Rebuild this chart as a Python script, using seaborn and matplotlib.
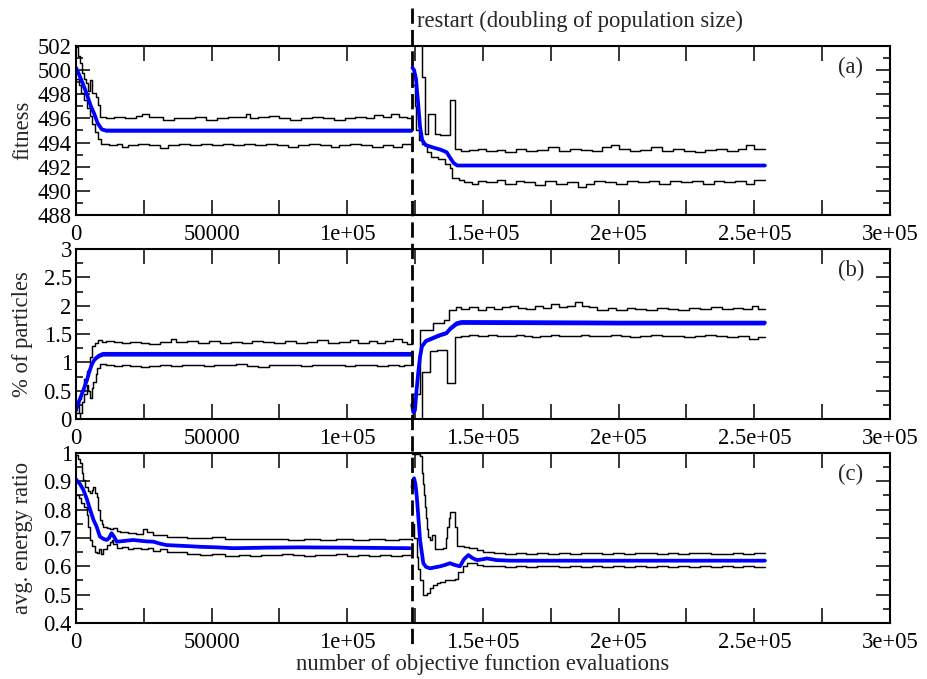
import numpy as np
import pandas as pd
import matplotlib
matplotlib.use("Agg")
import matplotlib.pyplot as plt
from matplotlib.lines import Line2D
from matplotlib.ticker import FixedLocator, MultipleLocator
import seaborn as sns

# ---------------- data (x in thousands of evaluations) ----------------
restart_k = 123.8

x_ticks = [0, 50000, 100000, 150000, 200000, 250000, 300000]
x_tick_labels = ["0", "50000", "1e+05", "1.5e+05", "2e+05", "2.5e+05", "3e+05"]

fit_ticks = [488, 490, 492, 494, 496, 498, 500, 502]
fit_tick_labels = ["488", "490", "492", "494", "496", "498", "500", "502"]
pct_ticks = [0, 0.5, 1, 1.5, 2, 2.5, 3]
pct_tick_labels = ["0", "0.5", "1", "1.5", "2", "2.5", "3"]
en_ticks = [0.4, 0.5, 0.6, 0.7, 0.8, 0.9, 1.0]
en_tick_labels = ["0.4", "0.5", "0.6", "0.7", "0.8", "0.9", "1"]

# panel (a) fitness -- upper / lower quantile (step), mean (x, value, noise half-width)
fit_hi_1 = [(0, 501.9), (0.8, 501.2), (1.5, 500.6), (2.3, 499.8), (3.0, 499.3), (3.8, 498.9),
            (4.5, 498.3), (5.2, 499.2), (6.0, 498.1), (7.2, 497.8), (8.0, 497.1), (9.0, 496.1),
            (11, 496.0), (14, 496.1), (18, 496.0), (22, 496.2), (24.5, 496.35), (27, 496.1),
            (32, 495.9), (36, 496.0), (40, 496.0), (44, 496.1), (48, 495.9), (52, 496.0),
            (56, 496.1), (60, 496.1), (62.5, 496.4), (64, 496.0), (67, 496.1), (71, 496.2),
            (75, 496.0), (79, 495.9), (83, 496.0), (87, 496.1), (91, 496.0), (95, 495.9),
            (99, 496.0), (103, 496.1), (107, 496.0), (110, 496.3), (113, 496.1), (116, 496.35),
            (119, 496.1), (122, 496.0), (123.7, 496.0)]
fit_lo_1 = [(0, 499.3), (1.0, 498.8), (2.0, 498.1), (3.0, 497.5), (4.0, 496.9), (5.0, 496.2),
            (6.0, 495.5), (7.0, 494.9), (8.0, 494.3), (9.2, 493.9), (12, 493.8), (15, 493.9),
            (17, 493.6), (19, 493.8), (23, 493.9), (27, 493.8), (31, 493.55), (34, 493.8),
            (38, 493.9), (42, 493.8), (46, 493.9), (50, 493.8), (54, 493.9), (58, 493.8),
            (62, 493.9), (66, 493.8), (70, 493.9), (74, 493.8), (78, 493.65), (82, 493.8),
            (86, 493.9), (90, 493.8), (94, 493.6), (97, 493.8), (101, 493.9), (105, 493.8),
            (109, 493.65), (113, 493.8), (117, 493.6), (120, 493.9), (123.7, 493.8)]
fit_mid_1 = [(0, 500.2, 0.03), (1.0, 499.7, 0.03), (2.5, 498.9, 0.04), (4.0, 498.0, 0.05),
             (5.5, 497.0, 0.06), (6.7, 496.4, 0.08), (8.0, 495.6, 0.1), (9.5, 495.1, 0.12),
             (11, 495.0, 0.13), (60, 495.0, 0.13), (123.7, 495.0, 0.13)]
fit_hi_2 = [(123.8, 503.0), (127.4, 499.4), (128.6, 494.7), (129.9, 496.4), (132.3, 494.7),
            (134, 494.6), (137.8, 497.5), (139.7, 493.5), (142, 493.3), (145, 493.4),
            (148, 493.5), (151, 493.3), (155, 493.4), (158, 493.2), (162, 493.5), (166, 493.3),
            (170, 493.4), (174, 493.6), (178, 493.3), (182, 493.5), (186, 493.4), (190, 493.3),
            (194, 493.6), (197, 493.8), (200, 493.5), (204, 493.3), (208, 493.4), (212, 493.6),
            (216, 493.3), (220, 493.5), (224, 493.3), (228, 493.2), (232, 493.4), (236, 493.5),
            (240, 493.3), (244, 493.5), (247, 493.8), (250, 493.5), (253.9, 493.5)]
fit_lo_2 = [(123.8, 498.8), (124.8, 497.0), (125.3, 495.0), (126.5, 494.2), (127.5, 493.9),
            (129.5, 493.2), (131, 492.8), (133.5, 492.6), (136, 492.2), (137.8, 491.9),
            (138.4, 491.1), (141, 490.9), (143, 490.7), (146, 490.6), (148, 490.8), (151, 490.7),
            (155, 490.9), (158, 490.6), (162, 490.8), (165, 490.7), (169, 490.5), (173, 490.8),
            (177, 490.6), (181, 490.7), (185, 490.3), (188, 490.6), (191, 490.8), (195, 490.7),
            (199, 490.6), (203, 490.8), (207, 490.7), (211, 490.8), (215, 490.6), (219, 490.8),
            (223, 490.7), (227, 490.8), (231, 490.6), (235, 490.8), (239, 490.7), (243, 490.8),
            (247, 490.6), (250, 490.9), (253.9, 490.9)]
fit_mid_2 = [(124.0, 500.2, 0.02), (124.6, 500.0, 0.02), (125.3, 499.3, 0.02), (126.0, 497.5, 0.02),
             (126.8, 495.3, 0.02), (127.6, 494.2, 0.02), (128.8, 493.8, 0.02), (131.5, 493.6, 0.02),
             (134.5, 493.4, 0.02), (136.6, 493.2, 0.02), (138.0, 492.7, 0.02), (139.2, 492.3, 0.02),
             (140.5, 492.1, 0.03), (200, 492.1, 0.03), (253.9, 492.1, 0.03)]

# panel (b) % of particles
pct_hi_1 = [(0, 0.1), (1.0, 0.35), (2.0, 0.5), (3.0, 0.7), (4.0, 0.85), (5.0, 1.1), (6.0, 1.28),
            (7.0, 1.35), (8.0, 1.39), (9.5, 1.36), (11, 1.38), (14, 1.36), (17, 1.34), (20, 1.36),
            (24, 1.35), (27, 1.33), (31, 1.36), (35, 1.42), (37, 1.36), (41, 1.37), (45, 1.35),
            (49, 1.38), (53, 1.35), (57, 1.36), (61, 1.34), (65, 1.37), (69, 1.36), (73, 1.35),
            (77, 1.37), (81, 1.34), (85, 1.36), (89, 1.39), (93, 1.35), (97, 1.36), (101, 1.39),
            (104, 1.35), (108, 1.37), (111, 1.34), (114, 1.38), (117, 1.42), (120, 1.36),
            (122, 1.33), (123.7, 1.33)]
pct_lo_1 = [(0, 0.0), (1.5, 0.1), (2.2, 0.3), (3.0, 0.45), (3.9, 0.6), (4.6, 0.5), (5.2, 0.37),
            (5.8, 0.55), (6.4, 0.66), (7.2, 0.8), (7.8, 0.9), (8.8, 0.97), (11, 0.95), (14, 0.93),
            (17, 0.96), (20, 0.94), (24, 0.91), (27, 0.93), (31, 0.95), (35, 0.94), (39, 0.96),
            (43, 0.95), (47, 0.94), (51, 0.96), (55, 0.95), (59, 0.97), (63, 0.94), (67, 0.92),
            (71, 0.95), (75, 0.96), (79, 0.95), (83, 0.94), (87, 0.95), (91, 0.96), (95, 0.95),
            (99, 0.94), (103, 0.96), (107, 0.95), (111, 0.93), (115, 0.95), (119, 0.94),
            (121, 0.96), (123.7, 0.96)]
pct_mid_1 = [(0, 0.15, 0.01), (1.0, 0.3, 0.01), (2.0, 0.42, 0.015), (3.0, 0.55, 0.015),
             (4.0, 0.68, 0.02), (5.0, 0.85, 0.02), (6.0, 0.98, 0.025), (7.0, 1.06, 0.03),
             (8.5, 1.12, 0.035), (10, 1.15, 0.04), (60, 1.15, 0.04), (123.7, 1.15, 0.04)]
pct_hi_2 = [(123.8, 0.45), (126.8, 1.57), (131.6, 1.69), (135.5, 1.75), (137.5, 1.92), (140, 1.98),
            (142, 1.95), (145, 1.97), (148, 1.93), (151, 1.98), (154, 1.95), (157, 1.97),
            (160, 1.99), (163, 1.96), (166, 1.94), (169, 2.0), (172, 1.96), (175, 2.03),
            (178, 1.97), (181, 1.99), (184, 2.06), (186.5, 2.0), (189, 1.97), (192, 1.93),
            (196, 1.96), (199, 1.93), (203, 1.96), (206, 1.95), (210, 1.93), (214, 1.96),
            (218, 1.95), (222, 1.93), (226, 1.96), (230, 1.95), (234, 1.97), (238, 1.95),
            (242, 1.96), (246, 1.94), (249, 1.99), (251.5, 1.95), (253.9, 1.95)]
pct_lo_2 = [(123.8, 0.35), (124.3, 0.0), (127.4, 0.83), (130.5, 1.2), (133, 1.22), (136.9, 0.64),
            (139.8, 1.45), (142, 1.47), (145, 1.48), (148, 1.46), (152, 1.48), (155, 1.46),
            (158, 1.47), (162, 1.49), (165, 1.47), (168, 1.45), (171, 1.47), (175, 1.48),
            (178, 1.46), (182, 1.47), (186, 1.49), (189, 1.47), (193, 1.46), (197, 1.48),
            (201, 1.47), (204, 1.45), (208, 1.47), (212, 1.48), (216, 1.46), (220, 1.47),
            (224, 1.44), (228, 1.46), (232, 1.48), (236, 1.47), (240, 1.45), (244, 1.47),
            (248, 1.42), (251.5, 1.45), (253.9, 1.45)]
pct_mid_2 = [(123.9, 0.25, 0.01), (124.3, 0.12, 0.01), (124.9, 0.15, 0.01), (125.5, 0.5, 0.01),
             (126.2, 0.85, 0.015), (126.8, 1.1, 0.02), (127.5, 1.28, 0.025), (129, 1.38, 0.03),
             (131, 1.42, 0.03), (134, 1.48, 0.03), (136.6, 1.52, 0.03), (138, 1.6, 0.035),
             (140.3, 1.69, 0.04), (142, 1.71, 0.04), (200, 1.70, 0.04), (253.9, 1.70, 0.04)]

# panel (c) avg. energy ratio
en_hi_1 = [(0, 0.993), (0.8, 0.98), (1.5, 0.964), (2.2, 0.93), (2.7, 0.905), (3.5, 0.88),
           (4.3, 0.865), (5.2, 0.858), (5.8, 0.87), (6.4, 0.881), (7.0, 0.86), (7.6, 0.846),
           (8.2, 0.8), (8.8, 0.764), (9.5, 0.75), (10.1, 0.74), (11.3, 0.735), (12.5, 0.73),
           (13.8, 0.734), (15, 0.725), (16.2, 0.722), (19, 0.718), (22, 0.715), (24.8, 0.73),
           (26, 0.72), (28.5, 0.712), (31, 0.71), (33.4, 0.705), (37, 0.703), (41, 0.7),
           (45.7, 0.699), (50, 0.703), (55, 0.697), (60, 0.695), (66, 0.698), (72, 0.696),
           (78, 0.693), (84, 0.696), (90, 0.694), (96, 0.697), (102, 0.693), (108, 0.695),
           (114, 0.692), (119, 0.695), (123.7, 0.693)]
en_lo_1 = [(0, 0.852), (1.0, 0.84), (2.0, 0.825), (3.0, 0.81), (3.9, 0.78), (4.6, 0.74),
           (5.2, 0.693), (6.0, 0.67), (7.0, 0.65), (7.6, 0.646), (8.4, 0.66), (9.2, 0.645),
           (10.1, 0.66), (11.3, 0.675), (12.5, 0.685), (13.1, 0.693), (13.8, 0.68), (15, 0.664),
           (17, 0.668), (19, 0.662), (21.1, 0.664), (24, 0.66), (26.5, 0.664), (28.5, 0.655),
           (31, 0.66), (33.4, 0.652), (37, 0.65), (41, 0.645), (45.7, 0.64), (50, 0.643),
           (55, 0.638), (60, 0.64), (64, 0.636), (68, 0.641), (72, 0.639), (76, 0.643),
           (80, 0.64), (84, 0.637), (88, 0.641), (92, 0.639), (96, 0.642), (100, 0.638),
           (104, 0.64), (108, 0.637), (112, 0.641), (116, 0.638), (120, 0.64), (123.7, 0.64)]
en_mid_1 = [(0, 0.907, 0.003), (1.5, 0.89, 0.003), (2.7, 0.87, 0.003), (3.9, 0.84, 0.003),
            (5.2, 0.8, 0.003), (6.4, 0.765, 0.003), (7.6, 0.74, 0.003), (8.8, 0.705, 0.003),
            (10.1, 0.697, 0.003), (11.3, 0.693, 0.003), (12.2, 0.7, 0.003), (13.1, 0.717, 0.003),
            (14, 0.705, 0.003), (15, 0.687, 0.003), (18, 0.69, 0.003), (21.1, 0.693, 0.003),
            (24, 0.69, 0.003), (26, 0.688, 0.003), (28.5, 0.687, 0.003), (31, 0.68, 0.003),
            (33.4, 0.675, 0.003), (40, 0.672, 0.003), (45.7, 0.669, 0.003), (52, 0.667, 0.003),
            (58, 0.664, 0.003), (70, 0.666, 0.003), (82.6, 0.667, 0.003), (100, 0.666, 0.003),
            (123.1, 0.664, 0.003)]
en_hi_2 = [(123.8, 0.995), (126.8, 0.99), (127.4, 0.93), (127.8, 0.89), (128.2, 0.85),
           (128.6, 0.81), (129.0, 0.77), (129.4, 0.73), (129.8, 0.705), (130.6, 0.693),
           (131.2, 0.71), (132.3, 0.66), (135.4, 0.665), (136.2, 0.7), (136.8, 0.74),
           (137.3, 0.77), (137.8, 0.79), (139.8, 0.74), (140.3, 0.67), (143, 0.668),
           (145, 0.665), (147.7, 0.658), (150.1, 0.652), (154, 0.648), (158, 0.645),
           (162, 0.648), (166, 0.644), (170, 0.647), (174, 0.645), (178, 0.648), (182, 0.644),
           (186, 0.646), (190, 0.648), (194, 0.645), (198, 0.647), (202, 0.644), (206, 0.646),
           (210, 0.648), (214, 0.645), (218, 0.647), (222, 0.644), (226, 0.646), (230, 0.648),
           (234, 0.645), (238, 0.643), (242, 0.646), (246, 0.644), (250, 0.647), (253.9, 0.647)]
en_lo_2 = [(123.8, 0.75), (124.6, 0.7), (125.6, 0.634), (126.2, 0.59), (126.8, 0.552),
           (128, 0.499), (129.2, 0.506), (130.5, 0.522), (131.7, 0.534), (133, 0.54),
           (134.2, 0.546), (136, 0.55), (137.8, 0.552), (139.7, 0.556), (140.9, 0.581),
           (142.5, 0.6), (144, 0.611), (147.7, 0.605), (150, 0.6), (154, 0.602), (158, 0.598),
           (162, 0.601), (166, 0.597), (170, 0.6), (174, 0.602), (178, 0.598), (182, 0.6),
           (186, 0.597), (190, 0.601), (194, 0.599), (198, 0.602), (202, 0.598), (206, 0.6),
           (210, 0.597), (214, 0.601), (218, 0.599), (222, 0.602), (226, 0.598), (230, 0.6),
           (234, 0.597), (238, 0.6), (242, 0.598), (246, 0.601), (250, 0.597), (253.9, 0.597)]
en_mid_2 = [(124.0, 0.88, 0.003), (124.6, 0.911, 0.003), (125.1, 0.89, 0.003), (125.6, 0.846, 0.003),
            (126.2, 0.77, 0.003), (126.8, 0.693, 0.003), (128, 0.611, 0.003), (129, 0.598, 0.003),
            (130.5, 0.593, 0.003), (132, 0.596, 0.003), (134.2, 0.6, 0.003), (136, 0.605, 0.003),
            (137.8, 0.611, 0.003), (139.5, 0.605, 0.003), (141.5, 0.6, 0.003), (143, 0.625, 0.003),
            (144.6, 0.64, 0.003), (146, 0.63, 0.003), (147.7, 0.622, 0.003), (150, 0.625, 0.003),
            (151.4, 0.628, 0.003), (155, 0.622, 0.003), (160, 0.62, 0.003), (253.9, 0.62, 0.003)]

panel_labels = ["(a)", "(b)", "(c)"]
y_labels = ["fitness", "% of particles", "avg. energy ratio"]
x_label = "number of objective function evaluations"
restart_text = "restart (doubling of population size)"

# ---------------- style ----------------
sns.set_style("ticks")
plt.rcParams["font.family"] = ["Liberation Serif", "DejaVu Serif"]
FS = 16.3

fig = plt.figure(figsize=(9.28, 6.79), dpi=100)
W, H = 928.0, 679.0
ax_left, ax_w = 76 / W, 814 / W
rects = [(46, 215), (249, 419), (453, 623)]
axes = [fig.add_axes([ax_left, 1 - b / H, ax_w, (b - t) / H]) for t, b in rects]


def draw_step(ax, pts):
    df = pd.DataFrame(pts, columns=["x", "y"])
    df["x"] = df["x"] * 1000
    sns.lineplot(data=df, x="x", y="y", ax=ax, color="black", lw=1.05,
                 drawstyle="steps-post", estimator=None, sort=False, legend=False)


def draw_mean(ax, pts, lw):
    df = pd.DataFrame(pts, columns=["x", "y", "s"])
    df["x"] = df["x"] * 1000
    ax.fill_between(df["x"], df["y"] - df["s"], df["y"] + df["s"], color="#0000ff", lw=0)
    sns.lineplot(data=df, x="x", y="y", ax=ax, color="#0000ff", lw=lw,
                 estimator=None, sort=False, legend=False)


series = [
    (fit_hi_1, fit_lo_1, fit_mid_1, fit_hi_2, fit_lo_2, fit_mid_2),
    (pct_hi_1, pct_lo_1, pct_mid_1, pct_hi_2, pct_lo_2, pct_mid_2),
    (en_hi_1, en_lo_1, en_mid_1, en_hi_2, en_lo_2, en_mid_2),
]
ylims = [(488, 502), (0, 3), (0.4, 1.0)]
yt = [(fit_ticks, fit_tick_labels, 1), (pct_ticks, pct_tick_labels, 0.25), (en_ticks, en_tick_labels, 0.05)]
label_y = [0.875, 0.875, 0.875]

for i, ax in enumerate(axes):
    hi1, lo1, mid1, hi2, lo2, mid2 = series[i]
    for seg in (hi1, lo1, hi2, lo2):
        draw_step(ax, seg)
    draw_mean(ax, mid1, 2.7)
    draw_mean(ax, mid2, 2.7)

    ax.set_xlim(0, 300000)
    ax.set_ylim(*ylims[i])
    ax.xaxis.set_major_locator(FixedLocator(x_ticks))
    ax.set_xticklabels(x_tick_labels)
    ax.xaxis.set_minor_locator(MultipleLocator(25000))
    ticks, labels, minor = yt[i]
    ax.yaxis.set_major_locator(FixedLocator(ticks))
    ax.set_yticklabels(labels)
    ax.yaxis.set_minor_locator(MultipleLocator(minor))

    ax.tick_params(axis="both", which="both", direction="in", top=True, right=True,
                   width=1.1, colors="black", labelsize=FS)
    ax.tick_params(axis="x", which="both", length=11, pad=6.5)
    ax.tick_params(axis="y", which="major", length=10, pad=3)
    ax.tick_params(axis="y", which="minor", length=5)
    for sp in ax.spines.values():
        sp.set_linewidth(1.5)
        sp.set_color("black")
    ax.set_xlabel("")
    ax.set_ylabel(y_labels[i], fontsize=FS)
    ax.yaxis.set_label_coords(-0.053, 0.5)
    ax.text(0.952, label_y[i], panel_labels[i], transform=ax.transAxes,
            ha="center", va="center", fontsize=FS)
    ax.set_facecolor("white")

axes[2].set_xlabel(x_label, fontsize=FS, labelpad=1)

# restart dashed line spanning the whole figure
fig.canvas.draw()
xr_disp = axes[0].transData.transform((restart_k * 1000, 0))[0]
xr_fig = fig.transFigure.inverted().transform((xr_disp, 0))[0]
fig.add_artist(Line2D([xr_fig, xr_fig], [1 - 8 / H, 1 - 646 / H], transform=fig.transFigure,
                      color="black", lw=2.0, linestyle=(0, (5.5, 2.2)), zorder=10))
fig.text(xr_fig + 5 / W, 1 - 21 / H, restart_text, ha="left", va="center", fontsize=FS)

fig.savefig("out.png", dpi=100, facecolor="white")
